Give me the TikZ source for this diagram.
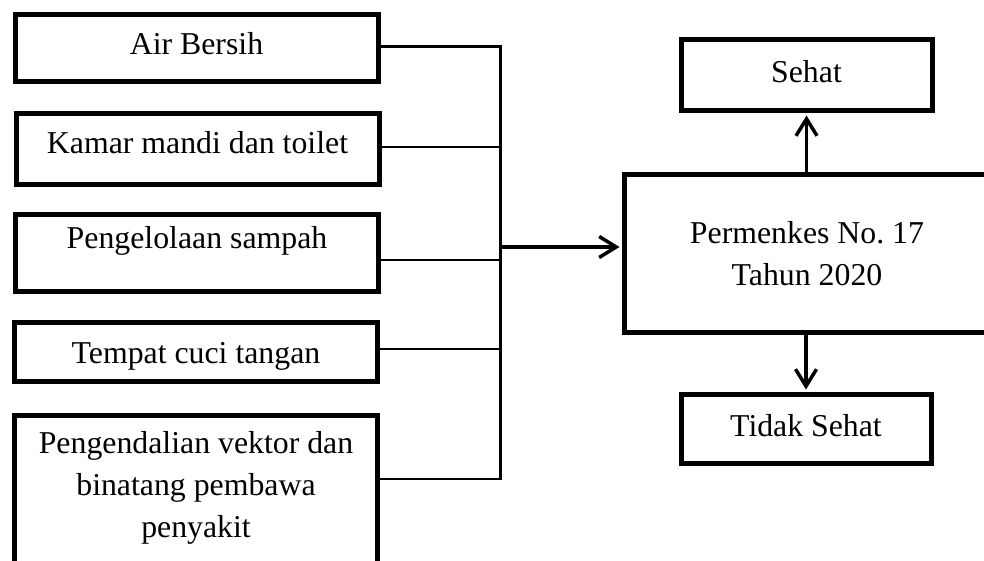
\documentclass[tikz,border=0pt]{standalone}
\usepackage{fontspec}
\setmainfont{Liberation Serif}
\usetikzlibrary{arrows.meta,positioning}

\begin{document}
\begin{tikzpicture}[x=1pt,y=-1pt,font=\fontsize{31.8}{42}\selectfont,
    >={Straight Barb[length=17pt,width=21pt]},
    kotak/.style={draw,line width=5pt,inner sep=0pt,minimum width=363pt},
    garis/.style={line width=2.5pt},
    panah/.style={->,line width=3.5pt,shorten >=2pt}]
  \clip (0,0) rectangle (984,561);
  \node[kotak,text height=40pt,text depth=27pt] (air) at (196.5,48.5) {Air Bersih};
  \node[kotak,text height=40pt,text depth=31pt] (toilet) at (197.5,149.5) {Kamar mandi dan toilet};
  \node[kotak,text height=33pt,text depth=43pt] (sampah) at (197,253) {Pengelolaan sampah};
  \node[kotak,text height=41pt,text depth=18pt] (cuci) at (196,351.5) {Tempat cuci tangan};
  \node[kotak,text height=38pt,text depth=112pt] (vektor) at (196,490)
    {\begin{tabular}[t]{@{}c@{}}Pengendalian vektor dan\\binatang pembawa\\penyakit\end{tabular}};
  \node[kotak,minimum width=366pt,minimum height=157pt,align=center] (permenkes) at (807,253.5)
    {Permenkes No.\ 17\\Tahun 2020};
  \node[kotak,minimum width=251pt,text height=43pt,text depth=28pt] (sehat) at (806.5,75.5) {Sehat};
  \node[kotak,minimum width=250pt,text height=42pt,text depth=27pt] (tidak) at (806,428.5) {Tidak Sehat};
  \coordinate (jn) at (500.5,247);
  \draw[garis] ([yshift=2pt]air.east) -| (jn);
  \draw[garis] ([yshift=2.5pt]toilet.east) -| (jn);
  \draw[garis] ([yshift=-7pt]sampah.east) -| (jn);
  \draw[garis] ([yshift=2.5pt]cuci.east) -| (jn);
  \draw[garis] ([yshift=11pt]vektor.east) -| (jn);
  \draw[panah] (jn) -- (jn -| permenkes.west);
  \draw[panah] (permenkes.north -| sehat.south) -- (sehat.south);
  \draw[panah] (permenkes.south -| tidak.north) -- (tidak.north);
\end{tikzpicture}
\end{document}
